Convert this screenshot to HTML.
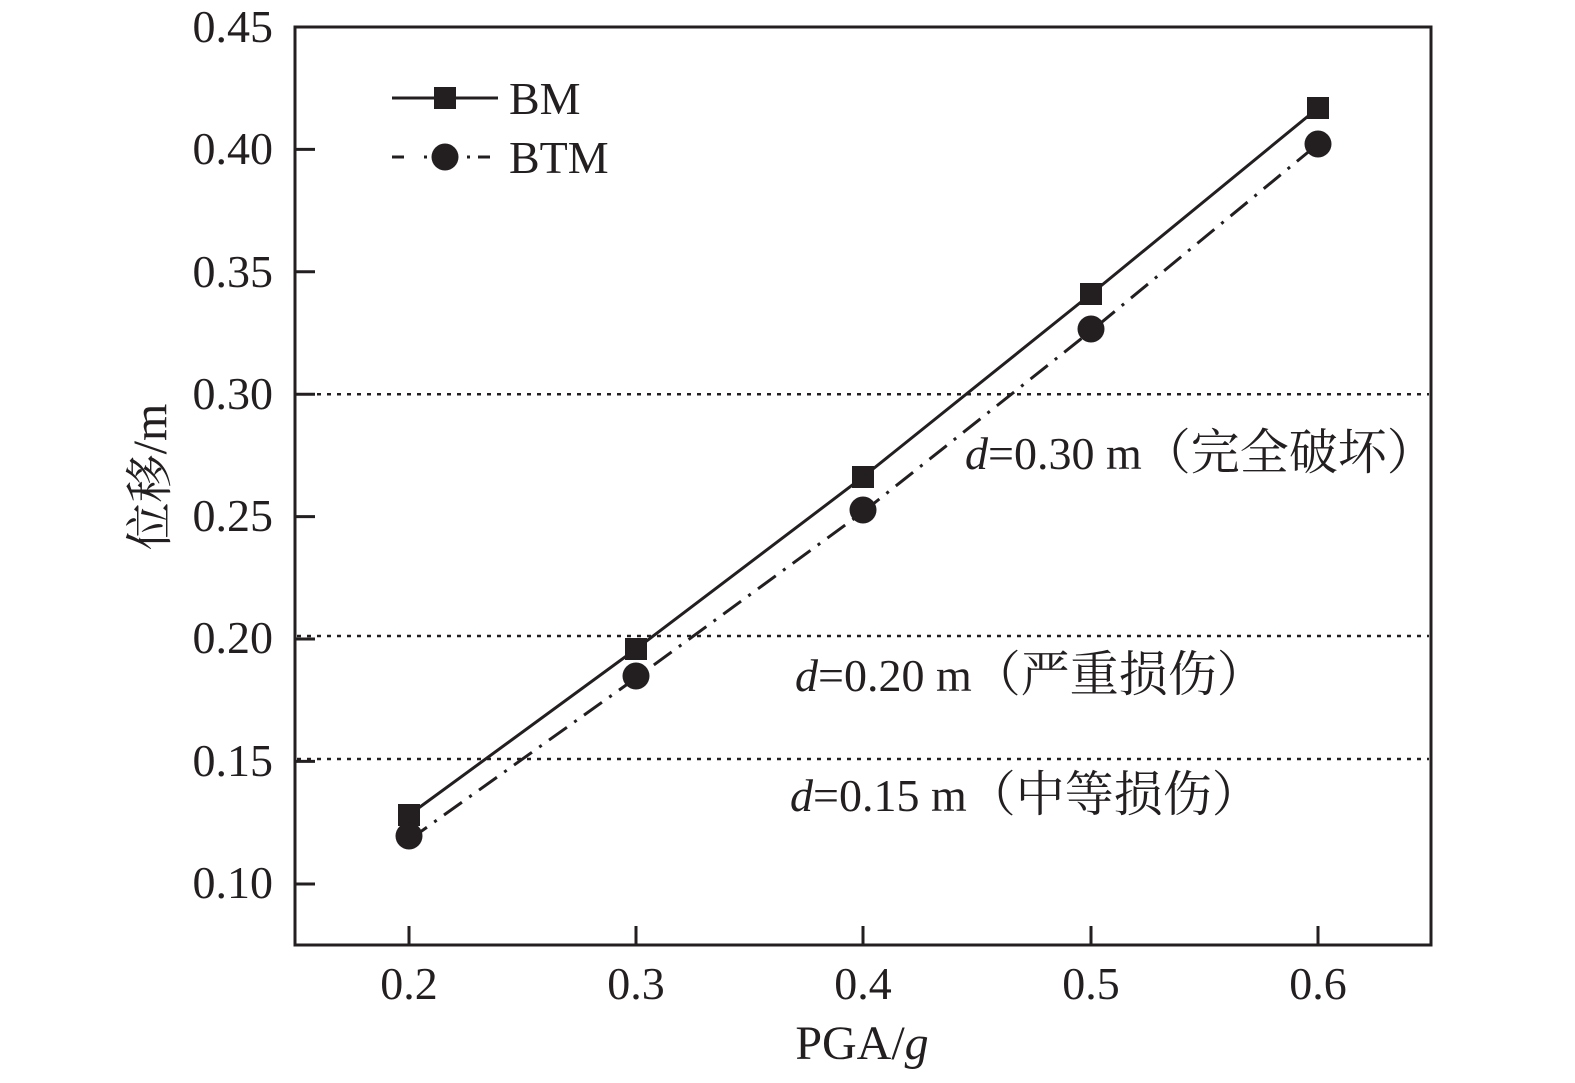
<!DOCTYPE html>
<html><head><meta charset="utf-8"><style>body{margin:0;background:#fff}</style></head><body>
<svg width="1575" height="1078" xmlns="http://www.w3.org/2000/svg" font-family="Liberation Serif, Noto Serif CJK SC, serif" fill="#231f20">
<rect x="295" y="27" width="1136" height="918" fill="none" stroke="#231f20" stroke-width="3"/>
<g stroke="#231f20" stroke-width="3">
<line x1="295" y1="149.4" x2="315" y2="149.4"/><line x1="295" y1="271.8" x2="315" y2="271.8"/><line x1="295" y1="394.2" x2="315" y2="394.2"/><line x1="295" y1="516.6" x2="315" y2="516.6"/><line x1="295" y1="639" x2="315" y2="639"/><line x1="295" y1="761.4" x2="315" y2="761.4"/><line x1="295" y1="884" x2="315" y2="884"/>
<line x1="409" y1="945" x2="409" y2="926"/><line x1="636" y1="945" x2="636" y2="926"/><line x1="863" y1="945" x2="863" y2="926"/><line x1="1091" y1="945" x2="1091" y2="926"/><line x1="1318" y1="945" x2="1318" y2="926"/>
</g>
<g stroke="#231f20" stroke-width="2.5" stroke-dasharray="4,6">
<line x1="297" y1="394.2" x2="1429" y2="394.2"/><line x1="297" y1="636" x2="1429" y2="636"/><line x1="297" y1="759" x2="1429" y2="759"/>
</g>
<g font-size="46" text-anchor="end">
<text x="273" y="42">0.45</text><text x="273" y="164">0.40</text><text x="273" y="287">0.35</text><text x="273" y="409">0.30</text><text x="273" y="531">0.25</text><text x="273" y="653">0.20</text><text x="273" y="776">0.15</text><text x="273" y="898">0.10</text>
</g>
<g font-size="46" text-anchor="middle">
<text x="409" y="999">0.2</text><text x="636" y="999">0.3</text><text x="863" y="999">0.4</text><text x="1091" y="999">0.5</text><text x="1318" y="999">0.6</text>
<text x="862" y="1059" font-size="48">PGA/<tspan font-style="italic">g</tspan></text>
</g>
<text transform="translate(166,477) rotate(-90)" font-size="48" text-anchor="middle">位移/m</text>
<polyline points="409,815 636,649 863,477 1091,294 1318,108" fill="none" stroke="#231f20" stroke-width="3"/>
<polyline points="409,840 636,678 863,512 1091,331 1318,144" fill="none" stroke="#231f20" stroke-width="3" stroke-dasharray="22,9,3,9"/>
<g>
<rect x="398" y="804" width="22" height="22"/><rect x="625" y="638" width="22" height="22"/><rect x="852" y="466" width="22" height="22"/><rect x="1080" y="283" width="22" height="22"/><rect x="1307" y="97" width="22" height="22"/>
<circle cx="409" cy="836" r="13.5"/><circle cx="636" cy="676" r="13.5"/><circle cx="863" cy="510" r="13.5"/><circle cx="1091" cy="329" r="13.5"/><circle cx="1318" cy="144" r="13.5"/>
</g>
<line x1="392" y1="98" x2="498" y2="98" stroke="#231f20" stroke-width="3"/>
<rect x="434" y="87" width="22" height="22"/>
<line x1="392" y1="157" x2="498" y2="157" stroke="#231f20" stroke-width="3" stroke-dasharray="12,20,3,8"/>
<circle cx="445" cy="157" r="13.5"/>
<text x="509" y="114" font-size="46">BM</text>
<text x="509" y="173" font-size="46">BTM</text>
<text x="965" y="469" font-size="46"><tspan font-style="italic">d</tspan>=0.30 m<tspan font-size="49">（完全破坏）</tspan></text>
<text x="795" y="691" font-size="46"><tspan font-style="italic">d</tspan>=0.20 m<tspan font-size="49">（严重损伤）</tspan></text>
<text x="790" y="811" font-size="46"><tspan font-style="italic">d</tspan>=0.15 m<tspan font-size="49">（中等损伤）</tspan></text>
</svg>
</body></html>
